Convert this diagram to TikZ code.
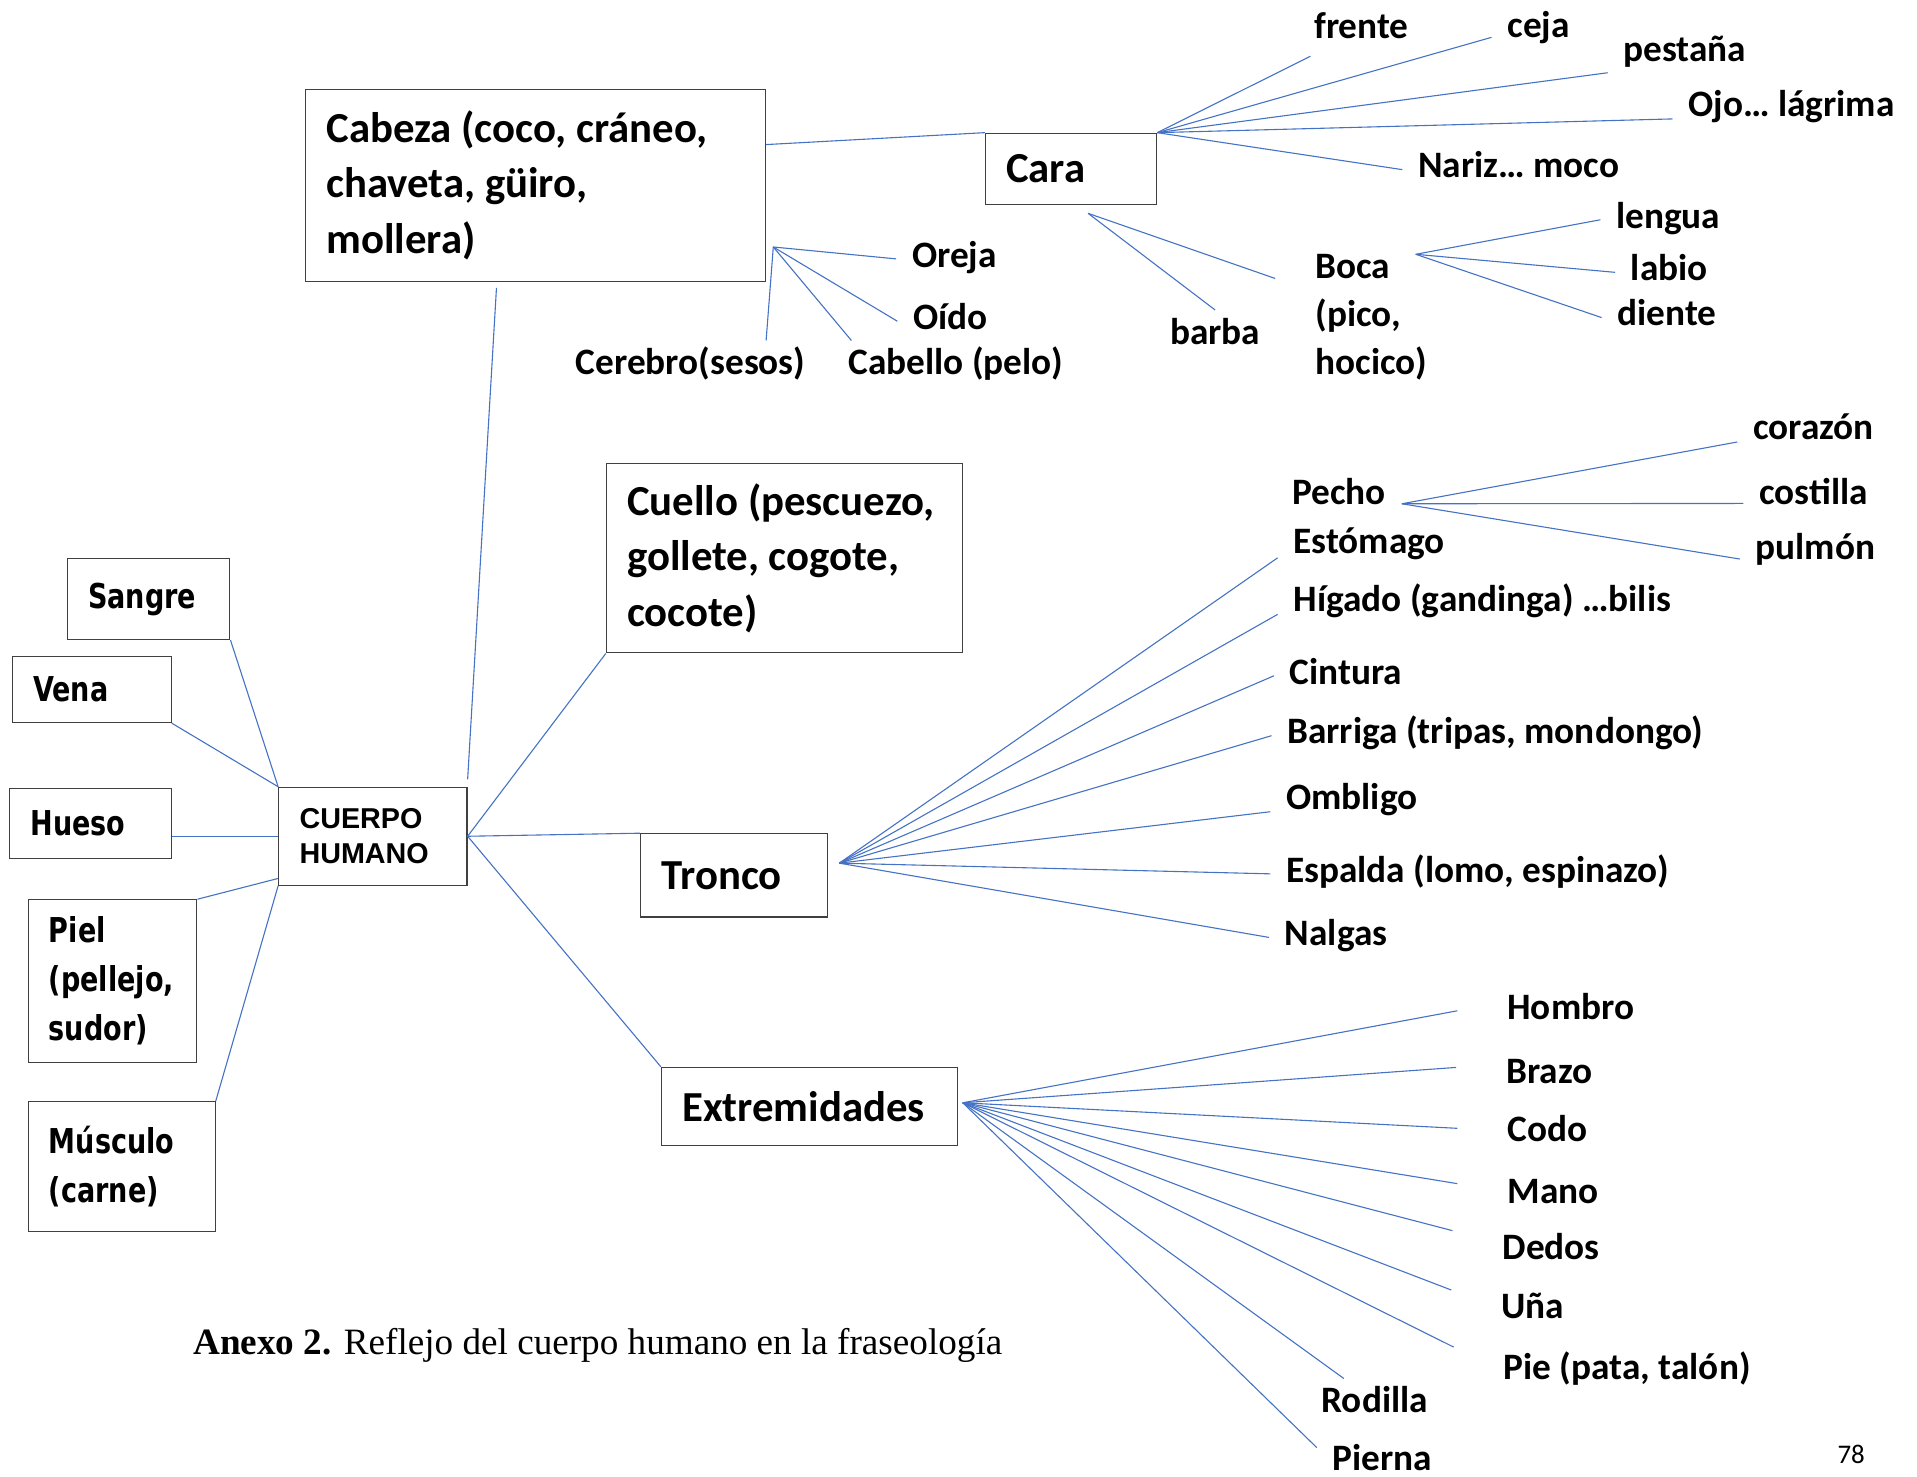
\documentclass[tikz,border=0pt]{standalone}
\usepackage{fontspec}
\setmainfont{Carlito}
\newfontfamily\cajafuente[FakeStretch=0.79]{DejaVu Sans}
\newfontfamily\cuerpofuente{Liberation Sans}
\newfontfamily\piefuente{Liberation Serif}
\usepackage{tikz}
\definecolor{azul}{RGB}{68,114,196}
\hyphenpenalty=10000

\begin{document}
\begin{tikzpicture}[x=1pt, y=-1pt, inner sep=1pt]
	\tikzset{every edge/.style={draw=azul, line width=0.9pt}}
	\tikzset{caja/.style 2 args={draw=black!75, line width=1pt, align=flush left, inner xsep=17pt, inner ysep=0pt, text width=#1, minimum height=#2, font=\bfseries\fontsize{35}{45.5}\selectfont}}
	\tikzset{cajita/.style 2 args={caja={#1}{#2}, font=\cajafuente\bfseries\fontsize{28}{40}\selectfont}}
	\tikzset{hoja/.style={anchor=text, inner sep=1pt, outer xsep=12pt, outer ysep=6pt, text height=21pt, text depth=7.5pt, font=\bfseries\fontsize{30.5}{39.5}\selectfont}}
	\tikzset{miembro/.style={hoja, outer xsep=40pt}}

	\useasboundingbox (0,0) rectangle (1568,1208);

	%CAJAS
	\node[caja={342pt}{157pt}]	(cabeza) at (438,151.5)	{Cabeza~(coco,~cráneo,\\chaveta,~güiro,\\mollera)};
	\node[caja={106pt}{58pt}]	(cara) at (876,138)	{Cara};
	\node[caja={257pt}{155pt}]	(cuello) at (641.5,456.5)	{Cuello~(pescuezo,\\gollete,~cogote,\\cocote)};
	\node[caja={119pt}{68pt}]	(tronco) at (600.5,716)	{Tronco};
	\node[caja={208pt}{64pt}]	(extremidades) at (662,905)	{Extremidades};
	\node[cajita={120pt}{80pt}, font=\cuerpofuente\bfseries\fontsize{23.5}{29}\selectfont]	(cuerpo) at (305,684)	{CUERPO\\HUMANO};
	\node[cajita={99pt}{66pt}]	(sangre) at (121.5,490)	{Sangre};
	\node[cajita={96pt}{54pt}]	(vena) at (75,564)	{Vena};
	\node[cajita={98pt}{57pt}]	(hueso) at (74,673.5)	{Hueso};
	\node[cajita={104pt}{133pt}]	(piel) at (92,802.5)	{Piel\\(pellejo,\\sudor)};
	\node[cajita={119pt}{106pt}]	(musculo) at (99.5,954)	{Músculo\\(carne)};

	%CABEZA Y CARA
	\node[hoja]	(oreja) at (746,218.5)	{Oreja};
	\node[hoja]	(oido) at (747,269.5)	{Oído};
	\node[hoja]	(cabello) at (694,306.5)	{Cabello (pelo)};
	\node[hoja]	(cerebro) at (471,306.5)	{Cerebro(sesos)};
	\node[hoja]	(frente) at (1075,31.5)	{frente};
	\node[hoja]	(ceja) at (1233,30.5)	{ceja};
	\node[hoja]	(pestana) at (1328,50.5)	{pestaña};
	\node[hoja]	(ojo) at (1381,95.5)	{Ojo… lágrima};
	\node[hoja]	(nariz) at (1160,145.5)	{Nariz… moco};
	\node[hoja]	(barba) at (957,281.5)	{barba};
	\node[anchor=west, align=left, outer xsep=32pt, outer ysep=6pt, font=\bfseries\fontsize{30.5}{39.5}\selectfont]	(boca) at (1043,259.5)	{Boca\\(pico,\\hocico)};
	\node[hoja]	(lengua) at (1322,186.5)	{lengua};
	\node[hoja]	(labio) at (1334,229.5)	{labio};
	\node[hoja]	(diente) at (1323,266.5)	{diente};

	%TRONCO
	\node[hoja]	(pecho) at (1057,412.5)	{Pecho};
	\node[hoja]	(corazon) at (1434,359.5)	{corazón};
	\node[hoja]	(costilla) at (1439,412.5)	{costilla};
	\node[hoja]	(pulmon) at (1436,457.5)	{pulmón};
	\node[hoja]	(estomago) at (1058,452.5)	{Estómago};
	\node[hoja]	(higado) at (1058,500.5)	{Hígado (gandinga) …bilis};
	\node[hoja]	(cintura) at (1055,559.5)	{Cintura};
	\node[hoja]	(barriga) at (1053,608.5)	{Barriga (tripas, mondongo)};
	\node[hoja]	(ombligo) at (1052,662.5)	{Ombligo};
	\node[hoja]	(espalda) at (1052,721.5)	{Espalda (lomo, espinazo)};
	\node[hoja]	(nalgas) at (1051,773.5)	{Nalgas};

	%EXTREMIDADES
	\node[miembro]	(hombro) at (1233,833.5)	{Hombro};
	\node[miembro]	(brazo) at (1232,886.5)	{Brazo};
	\node[miembro]	(codo) at (1233,933.5)	{Codo};
	\node[miembro]	(mano) at (1233,984.5)	{Mano};
	\node[miembro]	(dedos) at (1229,1030.5)	{Dedos};
	\node[miembro]	(una) at (1228,1078.5)	{Uña};
	\node[miembro]	(pie) at (1230,1128.5)	{Pie (pata, talón)};
	\node[hoja]	(rodilla) at (1081,1155.5)	{Rodilla};
	\node[hoja, text depth=0pt, outer ysep=0pt]	(pierna) at (1090,1203)	{Pierna};

	%PIE DE FIGURA
	\node[anchor=text, font=\piefuente\fontsize{30.4}{34}\selectfont]	(anexo) at (158,1108)	{\textbf{Anexo 2.} Reflejo del cuerpo humano en la fraseología};
	\node[anchor=text, font=\fontsize{22}{26}\selectfont]	(pagina) at (1503,1197)	{78};

	%CENTROS
	\coordinate (cabeza hub) at ([xshift=6pt]cabeza.-15);
	\coordinate (cara hub) at ([xshift=14pt,yshift=-7pt]cara.south);
	\coordinate (boca hub) at (1158,208);
	\coordinate (tronco hub) at ([xshift=9pt,yshift=10pt]tronco.east);
	\coordinate (ext hub) at ([xshift=4pt,yshift=3pt]extremidades.east);

	%RAMAS
	\path
		(cabeza.10)	edge	(cara.north west)
		(cabeza hub)	edge	(oreja.west)
		(cabeza hub)	edge	(oido.west)
		(cabeza hub)	edge	(cabello.166)
		(cabeza hub)	edge	(cerebro.19)
		(cara.north east)	edge	(frente.207)
		(cara.north east)	edge	(ceja.190)
		(cara.north east)	edge	(pestana.194)
		(cara.north east)	edge	(ojo.185)
		(cara.north east)	edge	(nariz.west)
		(cara hub)	edge	(barba.north)
		(cara hub)	edge	(boca.158)
		(boca hub)	edge	(lengua.west)
		(boca hub)	edge	(labio.west)
		(boca hub)	edge	(diente.west)
		([yshift=-5pt]cabeza.-112)	edge	([yshift=6pt]cuerpo.north east)
		(cuerpo.east)	edge	(cuello.south west)
		(cuerpo.east)	edge	(tronco.north west)
		(cuerpo.east)	edge	(extremidades.north west)
		(sangre.south east)	edge	(cuerpo.north west)
		(vena.south east)	edge	(cuerpo.north west)
		(cuerpo.west)	edge	(hueso.east |- cuerpo.west)
		(piel.north east)	edge	(cuerpo.204)
		(musculo.north east)	edge	(cuerpo.south west)
		(pecho.-7)	edge	(corazon.188)
		(pecho.-7)	edge	(costilla.186)
		(pecho.-7)	edge	(pulmon.186)
		(tronco hub)	edge	(estomago.188)
		(tronco hub)	edge	(higado.183)
		(tronco hub)	edge	(cintura.west)
		(tronco hub)	edge	(barriga.west)
		(tronco hub)	edge	(ombligo.187)
		(tronco hub)	edge	(espalda.west)
		(tronco hub)	edge	(nalgas.west)
		(ext hub)	edge	(hombro.west)
		(ext hub)	edge	(brazo.175)
		(ext hub)	edge	(codo.177)
		(ext hub)	edge	(mano.173)
		(ext hub)	edge	(dedos.168)
		(ext hub)	edge	(una.166)
		(ext hub)	edge	(pie.172)
		(ext hub)	edge	(rodilla.140)
		(ext hub)	edge	(pierna.171);
\end{tikzpicture}
\end{document}
